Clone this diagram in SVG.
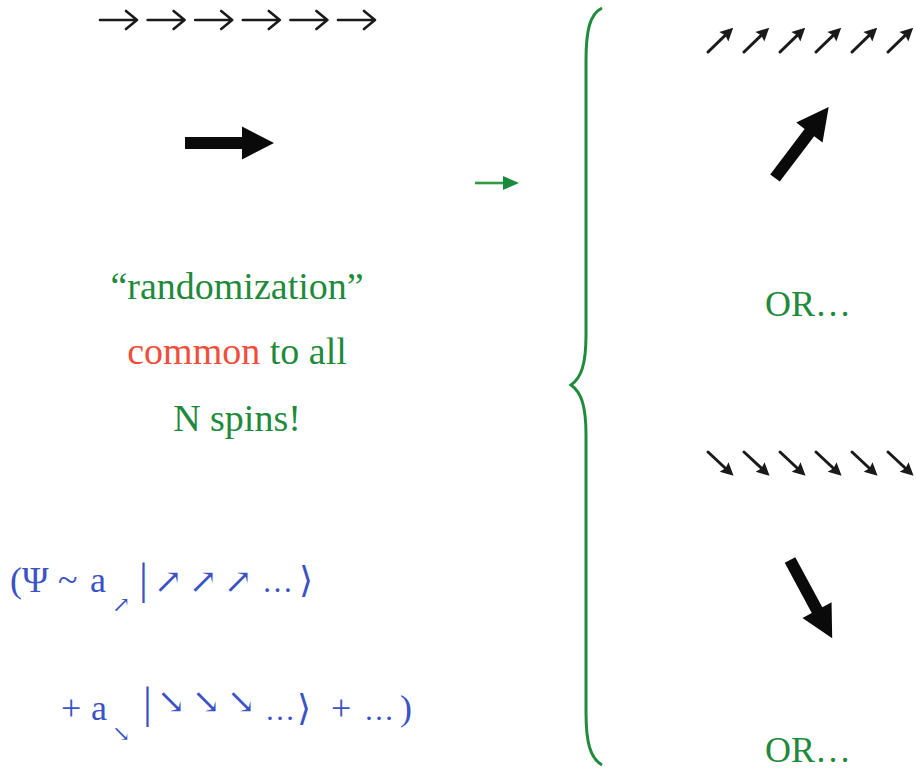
<svg xmlns="http://www.w3.org/2000/svg" width="916" height="770" viewBox="0 0 916 770">
<style>
.g{fill:#1f8a3c;font-family:"Liberation Serif","Times New Roman",serif}
.r{fill:#f04e3c}
.b{fill:#3b52c4;font-family:"Liberation Serif","DejaVu Serif",serif}
.thin{stroke:#1a1a1a;stroke-width:2.6;fill:none;stroke-linecap:round;stroke-linejoin:round}
.blk{fill:#0a0a0a}
</style>
<defs>
<g id="openArrow"><path class="thin" d="M0,0 H37 M26,-9 L37,0 L26,9"/></g>
<g id="smallArrow"><path d="M0,0 H26" stroke="#1a1a1a" stroke-width="3" stroke-linecap="round"/><polygon points="35,0 22,-6.5 24,0 22,6.5" fill="#1a1a1a"/></g>
<polygon id="bigArrow" points="0,-6 57,-6 57,-16.5 89,0 57,16.5 57,6 0,6"/>
</defs>
<rect width="916" height="770" fill="#ffffff"/>

<g id="spins-aligned">
<use href="#openArrow" x="100" y="20"/>
<use href="#openArrow" x="147.6" y="20"/>
<use href="#openArrow" x="195.2" y="20"/>
<use href="#openArrow" x="242.8" y="20"/>
<use href="#openArrow" x="290.4" y="20"/>
<use href="#openArrow" x="338" y="20"/>
</g>
<g id="net-spin">
<use href="#bigArrow" class="blk" transform="translate(185,143)"/>
</g>
<g id="randomization-label">
<text class="g" x="237" y="299" font-size="38" text-anchor="middle">“randomization”</text>
<text class="g" x="237" y="364" font-size="38" text-anchor="middle"><tspan class="r">common</tspan> to all</text>
<text class="g" x="237" y="431" font-size="38" text-anchor="middle">N spins!</text>
</g>
<g id="wavefunction">
<text class="b" y="592" font-size="36"><tspan x="10">(</tspan><tspan x="22">Ψ</tspan><tspan x="58">~</tspan><tspan x="90">a</tspan></text>
<text class="b" x="112" y="612" font-size="22">↗</text>
<text class="b" x="139" y="594" font-size="44">|</text>
<text class="b" y="593" font-size="34"><tspan x="154">↗</tspan><tspan x="189">↗</tspan><tspan x="224">↗</tspan></text>
<text class="b" y="592" font-size="31"><tspan x="262">…</tspan><tspan x="299" font-size="36">⟩</tspan></text>
<text class="b" y="720" font-size="36"><tspan x="61">+</tspan><tspan x="91">a</tspan></text>
<text class="b" x="112" y="741" font-size="22">↘</text>
<text class="b" x="143" y="718" font-size="44">|</text>
<text class="b" y="713" font-size="34"><tspan x="157">↘</tspan><tspan x="192">↘</tspan><tspan x="227">↘</tspan></text>
<text class="b" y="720" font-size="30"><tspan x="265">…</tspan><tspan x="297" font-size="36">⟩</tspan><tspan x="331" font-size="36">+</tspan><tspan x="364">…</tspan><tspan x="400" font-size="36">)</tspan></text>
</g>

<g id="spins-up-right">
<use href="#smallArrow" transform="translate(708,52) rotate(-44)"/>
<use href="#smallArrow" transform="translate(744,52) rotate(-44)"/>
<use href="#smallArrow" transform="translate(780,52) rotate(-44)"/>
<use href="#smallArrow" transform="translate(816,52) rotate(-44)"/>
<use href="#smallArrow" transform="translate(852,52) rotate(-44)"/>
<use href="#smallArrow" transform="translate(888,52) rotate(-44)"/>
</g>
<g id="net-up-right">
<use href="#bigArrow" class="blk" transform="translate(775,178) rotate(-52.9)"/>
</g>
<g id="or-1"><text class="g" x="765" y="316" font-size="36">OR…</text></g>
<g id="spins-down-right">
<use href="#smallArrow" transform="translate(708,452) rotate(43)"/>
<use href="#smallArrow" transform="translate(744,452) rotate(43)"/>
<use href="#smallArrow" transform="translate(780,452) rotate(43)"/>
<use href="#smallArrow" transform="translate(816,452) rotate(43)"/>
<use href="#smallArrow" transform="translate(852,452) rotate(43)"/>
<use href="#smallArrow" transform="translate(888,452) rotate(43)"/>
</g>
<g id="net-down-right">
<use href="#bigArrow" class="blk" transform="translate(790,560) rotate(61.7)"/>
</g>
<g id="or-2"><text class="g" x="765" y="762" font-size="36">OR…</text></g>

<g id="connectors">
<path d="M475,183 H505" stroke="#2f9a40" stroke-width="2.6"/>
<polygon points="519,183 503,176 503,190" fill="#1a8a3e"/>
<path d="M602,8 C590,14 586,30 586,60 L586,335 C586,365 581,378 571,385 C581,392 586,405 586,435 L586,712 C586,742 590,758 602,765" fill="none" stroke="#1f8c3c" stroke-width="3"/>
</g>
</svg>
